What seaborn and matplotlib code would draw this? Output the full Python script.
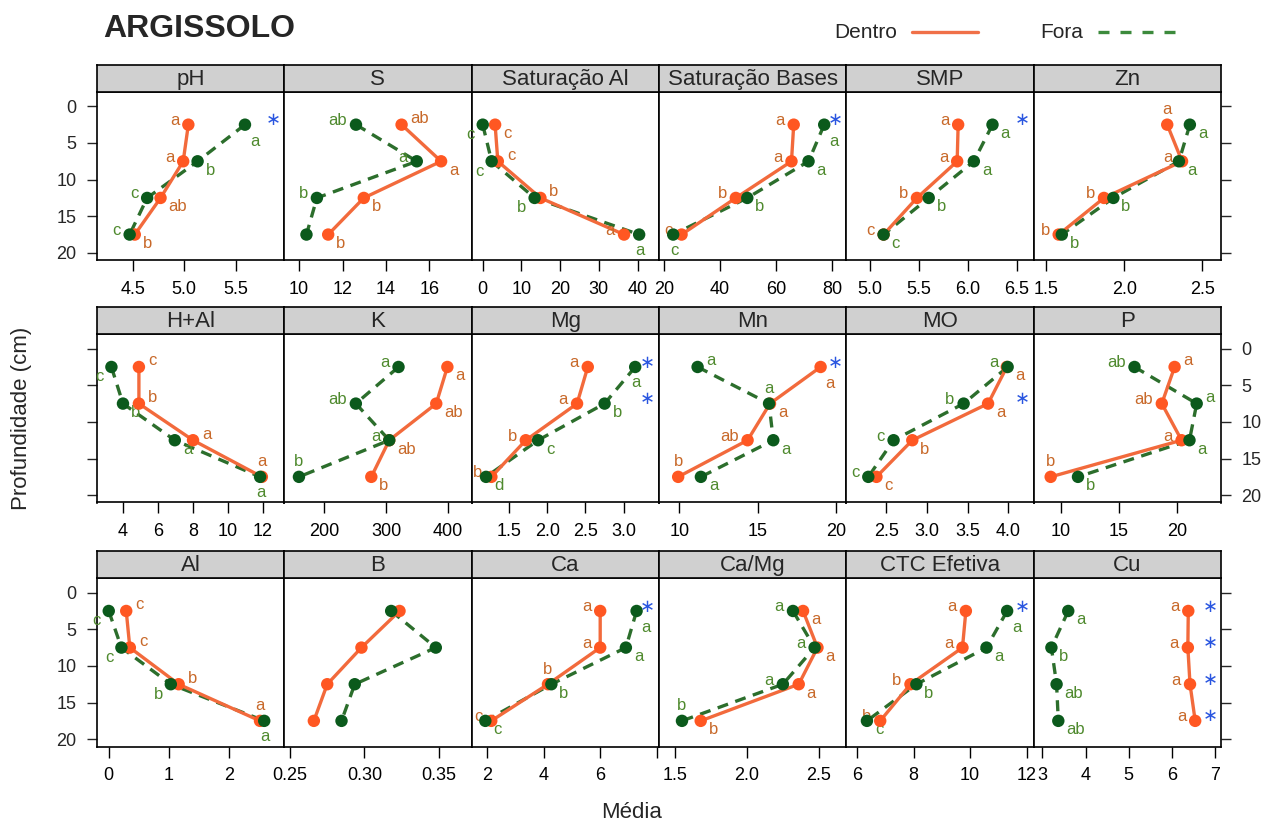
import matplotlib
matplotlib.use("Agg")
import matplotlib.pyplot as plt
import matplotlib.transforms as mtransforms
from matplotlib.lines import Line2D
import seaborn as sns
import pandas as pd

# ---------------- data ----------------
depths = [2.5, 7.5, 12.5, 17.5]
panels = ["pH", "S", "Saturação Al", "Saturação Bases", "SMP", "Zn",
          "H+Al", "K", "Mg", "Mn", "MO", "P",
          "Al", "B", "Ca", "Ca/Mg", "CTC Efetiva", "Cu"]

ph_dentro = [5.04, 4.99, 4.77, 4.52]
ph_fora = [5.59, 5.13, 4.64, 4.47]
s_dentro = [14.72, 16.54, 12.98, 11.34]
s_fora = [12.62, 15.42, 10.82, 10.34]
satal_dentro = [3.2, 3.9, 14.9, 36.5]
satal_fora = [0.0, 2.3, 13.4, 40.4]
satbases_dentro = [66.3, 65.5, 45.6, 26.2]
satbases_fora = [77.2, 71.6, 49.7, 23.2]
smp_dentro = [5.90, 5.89, 5.48, 5.14]
smp_fora = [6.25, 6.06, 5.60, 5.14]
zn_dentro = [2.275, 2.37, 1.87, 1.58]
zn_fora = [2.42, 2.35, 1.93, 1.60]
hal_dentro = [4.91, 4.91, 8.0, 11.93]
hal_fora = [3.34, 4.0, 6.96, 11.83]
k_dentro = [399, 381, 305, 276]
k_fora = [320, 251, 305, 159]
mg_dentro = [2.53, 2.39, 1.72, 1.27]
mg_fora = [3.15, 2.75, 1.88, 1.20]
mn_dentro = [19.02, 15.79, 14.36, 9.93]
mn_fora = [11.17, 15.73, 16.0, 11.38]
mo_dentro = [3.98, 3.75, 2.82, 2.38]
mo_fora = [3.99, 3.45, 2.59, 2.28]
p_dentro = [19.8, 18.7, 20.4, 9.14]
p_fora = [16.35, 21.7, 21.08, 11.49]
al_dentro = [0.29, 0.35, 1.16, 2.51]
al_fora = [0.0, 0.21, 1.03, 2.58]
b_dentro = [0.3236, 0.298, 0.275, 0.266]
b_fora = [0.318, 0.348, 0.2935, 0.2846]
ca_dentro = [6.0, 6.0, 4.15, 2.14]
ca_fora = [7.29, 6.91, 4.27, 1.93]
camg_dentro = [2.39, 2.49, 2.36, 1.68]
camg_fora = [2.32, 2.47, 2.25, 1.55]
ctc_dentro = [9.85, 9.73, 7.89, 6.82]
ctc_fora = [11.31, 10.58, 8.10, 6.35]
cu_dentro = [6.38, 6.37, 6.42, 6.54]
cu_fora = [3.60, 3.21, 3.33, 3.37]

# significance letters
ph_let_d = ["a", "a", "ab", "b"];      ph_let_f = ["a", "b", "c", "c"]
s_let_d = ["ab", "a", "b", "b"];       s_let_f = ["ab", "a", "b", ""]
satal_let_d = ["c", "c", "b", "a"];    satal_let_f = ["c", "c", "b", "a"]
satb_let_d = ["a", "a", "b", "c"];     satb_let_f = ["a", "a", "b", "c"]
smp_let_d = ["a", "a", "b", "c"];      smp_let_f = ["a", "a", "b", "c"]
zn_let_d = ["a", "a", "b", "b"];       zn_let_f = ["a", "a", "b", "b"]
hal_let_d = ["c", "b", "a", "a"];      hal_let_f = ["c", "b", "a", "a"]
k_let_d = ["a", "ab", "ab", "b"];      k_let_f = ["a", "ab", "a", "b"]
mg_let_d = ["a", "a", "b", "b"];       mg_let_f = ["a", "b", "c", "d"]
mn_let_d = ["a", "a", "ab", "b"];      mn_let_f = ["a", "a", "a", "a"]
mo_let_d = ["a", "a", "b", "c"];       mo_let_f = ["a", "b", "c", "c"]
p_let_d = ["a", "ab", "a", "b"];       p_let_f = ["ab", "a", "a", "b"]
al_let_d = ["c", "c", "b", "a"];       al_let_f = ["c", "c", "b", "a"]
b_let_d = ["", "", "", ""];            b_let_f = ["", "", "", ""]
ca_let_d = ["a", "a", "b", "c"];       ca_let_f = ["a", "a", "b", "c"]
camg_let_d = ["a", "a", "a", "b"];     camg_let_f = ["a", "a", "a", "b"]
ctc_let_d = ["a", "a", "b", "b"];      ctc_let_f = ["a", "a", "b", "c"]
cu_let_d = ["a", "a", "a", "a"];       cu_let_f = ["a", "b", "ab", "ab"]

# depths with significant difference (asterisk)
ph_star = [2.5]; satb_star = [2.5]; smp_star = [2.5]; mg_star = [2.5, 7.5]
mn_star = [2.5]; mo_star = [7.5]; ca_star = [2.5]; ctc_star = [2.5]
cu_star = [2.5, 7.5, 12.5, 17.5]

# x tick values per panel
ph_ticks = [4.5, 5.0, 5.5]; s_ticks = [10, 12, 14, 16]; satal_ticks = [0, 10, 20, 30, 40]
satb_ticks = [20, 40, 60, 80]; smp_ticks = [5.0, 5.5, 6.0, 6.5]; zn_ticks = [1.5, 2.0, 2.5]
hal_ticks = [4, 6, 8, 10, 12]; k_ticks = [200, 300, 400]; mg_ticks = [1.5, 2.0, 2.5, 3.0]
mn_ticks = [10, 15, 20]; mo_ticks = [2.5, 3.0, 3.5, 4.0]; p_ticks = [10, 15, 20]
al_ticks = [0, 1, 2]; b_ticks = [0.25, 0.30, 0.35]; ca_ticks = [2, 4, 6, 8]
camg_ticks = [1.5, 2.0, 2.5]; ctc_ticks = [6, 8, 10, 12]; cu_ticks = [3, 4, 5, 6, 7]
ca_ticklabels = ["2", "4", "6", ""]

# ---------------- assemble ----------------
dentro_vals = [ph_dentro, s_dentro, satal_dentro, satbases_dentro, smp_dentro, zn_dentro,
               hal_dentro, k_dentro, mg_dentro, mn_dentro, mo_dentro, p_dentro,
               al_dentro, b_dentro, ca_dentro, camg_dentro, ctc_dentro, cu_dentro]
fora_vals = [ph_fora, s_fora, satal_fora, satbases_fora, smp_fora, zn_fora,
             hal_fora, k_fora, mg_fora, mn_fora, mo_fora, p_fora,
             al_fora, b_fora, ca_fora, camg_fora, ctc_fora, cu_fora]
let_d = [ph_let_d, s_let_d, satal_let_d, satb_let_d, smp_let_d, zn_let_d,
         hal_let_d, k_let_d, mg_let_d, mn_let_d, mo_let_d, p_let_d,
         al_let_d, b_let_d, ca_let_d, camg_let_d, ctc_let_d, cu_let_d]
let_f = [ph_let_f, s_let_f, satal_let_f, satb_let_f, smp_let_f, zn_let_f,
         hal_let_f, k_let_f, mg_let_f, mn_let_f, mo_let_f, p_let_f,
         al_let_f, b_let_f, ca_let_f, camg_let_f, ctc_let_f, cu_let_f]
stars = [ph_star, [], [], satb_star, smp_star, [],
         [], [], mg_star, mn_star, mo_star, [],
         [], [], ca_star, [], ctc_star, cu_star]
ticks = [ph_ticks, s_ticks, satal_ticks, satb_ticks, smp_ticks, zn_ticks,
         hal_ticks, k_ticks, mg_ticks, mn_ticks, mo_ticks, p_ticks,
         al_ticks, b_ticks, ca_ticks, camg_ticks, ctc_ticks, cu_ticks]

rows = []
for name, dv, fv in zip(panels, dentro_vals, fora_vals):
    for d, v in zip(depths, dv):
        rows.append({"var": name, "local": "Dentro", "depth": d, "value": v})
    for d, v in zip(depths, fv):
        rows.append({"var": name, "local": "Fora", "depth": d, "value": v})
df = pd.DataFrame(rows)

# ---------------- layout / style (not data) ----------------
xlims = [(4.15, 5.97), (9.31, 17.94), (-2.9, 45.5), (18.1, 85.1), (4.76, 6.67), (1.42, 2.62),
         (2.5, 13.2), (135, 438), (1.01, 3.46), (8.7, 20.66), (2.01, 4.31), (7.68, 23.8),
         (-0.2, 2.91), (0.246, 0.372), (1.44, 8.08), (1.39, 2.69), (5.62, 12.25), (2.8, 7.14)]
# label placement codes: L left-up, l left-down, R right-down, r right-up,
# U above, D below, B right and well below
side_d = ["LLRR", "rRRR", "RrrL", "LLLL", "LLLL", "ULLL",
          "rrrU", "RRRR", "LLLL", "BRLU", "RRRR", "rLLU",
          "rrrU", "LLLL", "LLUL", "RRRR", "LLLL", "LLLL"]
side_f = ["BRLL", "LLLL", "lllD", "BRRD", "RRRR", "RRRR",
          "lRRD", "LLLU", "DRRR", "rURR", "LLLL", "LrRR",
          "lllD", "RRRR", "BRRR", "LLLU", "BRRR", "RRRR"]
offsets = {"L": (-9, 4, "right"), "l": (-8, -10, "right"),
           "R": (8, -9, "left"), "r": (9, 6, "left"),
           "U": (0, 15, "center"), "D": (1, -16, "center"),
           "B": (5, -17, "left")}

line_pal = {"Dentro": "#F26A3C", "Fora": "#2C6E2C"}
pt_pal = {"Dentro": "#FF5722", "Fora": "#0B5A1C"}
lab_col = {"Dentro": "#C8692A", "Fora": "#4F8A2E"}

sns.set_style("white")
plt.rcParams["font.family"] = ["Liberation Sans", "DejaVu Sans"]

W, H = 1267, 826
fig = plt.figure(figsize=(W / 100, H / 100), dpi=100)
left_px = 96.7
col_w = 187.4
row_top = [91.7, 334.0, 578.0]
row_h = 168.5
strip_h = 27.0

for i, name in enumerate(panels):
    r, c = divmod(i, 6)
    x0 = (left_px + c * col_w) / W
    ax = fig.add_axes([x0, 1 - (row_top[r] + row_h) / H, col_w / W, row_h / H])
    sax = fig.add_axes([x0, 1 - row_top[r] / H, col_w / W, strip_h / H])
    sax.set_facecolor("#D0D0D0")
    sax.set_xticks([]); sax.set_yticks([])
    for sp in sax.spines.values():
        sp.set_color("black"); sp.set_linewidth(1.2)
    sax.text(0.5, 0.45, name, ha="center", va="center", fontsize=16, transform=sax.transAxes)

    sub = df[df["var"] == name]
    sns.lineplot(data=sub, x="value", y="depth", hue="local", style="local",
                 hue_order=["Fora", "Dentro"], style_order=["Fora", "Dentro"],
                 palette=line_pal, dashes={"Dentro": "", "Fora": (3.3, 2.3)},
                 orient="y", sort=True, estimator=None, linewidth=2.4,
                 legend=False, ax=ax)
    sns.scatterplot(data=sub, x="value", y="depth", hue="local",
                    hue_order=["Fora", "Dentro"], palette=pt_pal, s=80,
                    linewidth=0, legend=False, ax=ax, zorder=4)

    for series, vals, lets, sides in (("Dentro", dentro_vals[i], let_d[i], side_d[i]),
                                      ("Fora", fora_vals[i], let_f[i], side_f[i])):
        for d, v, lt, sd in zip(depths, vals, lets, sides):
            if not lt:
                continue
            dx, dy, ha = offsets[sd]
            ax.annotate(lt, (v, d), xytext=(dx, dy), textcoords="offset pixels",
                        ha=ha, va="center", fontsize=12, color=lab_col[series],
                        annotation_clip=False)

    trans = mtransforms.blended_transform_factory(ax.transAxes, ax.transData)
    for d in stars[i]:
        ax.text(0.94, d - 0.6, "\u2217", transform=trans, ha="center", va="center",
                fontsize=13, color="#2A56E0", family="DejaVu Sans")

    ax.set_xlim(*xlims[i])
    ax.set_ylim(21, -2)
    ax.set_xlabel(""); ax.set_ylabel("")
    ax.set_xticks(ticks[i])
    if name == "Ca":
        ax.set_xticklabels(ca_ticklabels)
    elif name in ("pH", "SMP", "Zn", "Mg", "MO", "Ca/Mg", "B"):
        ax.set_xticklabels([f"{t:.2f}" if name == "B" else f"{t:.1f}" for t in ticks[i]])
    else:
        ax.set_xticklabels([f"{t:g}" for t in ticks[i]])
    ax.tick_params(axis="x", direction="out", length=8, width=1, pad=7,
                   labelsize=13, bottom=True, colors="black")
    ax.set_yticks([0, 5, 10, 15, 20])
    left_lab = (c == 0) and (r != 1)
    right_lab = (c == 5) and (r == 1)
    ax.tick_params(axis="y", direction="out", length=7.5, width=1, pad=7,
                   labelsize=13, left=(c == 0), right=(c == 5),
                   labelleft=left_lab, labelright=right_lab)
    for sp in ax.spines.values():
        sp.set_color("black"); sp.set_linewidth(1.2)

fig.text(103 / W, 1 - 29 / H, "ARGISSOLO", fontsize=23, fontweight="bold",
         ha="left", va="center")
fig.text(834 / W, 1 - 32 / H, "Dentro", fontsize=15, ha="left", va="center")
fig.add_artist(Line2D([912 / W, 978 / W], [1 - 32 / H, 1 - 32 / H],
                      color="#F07048", lw=2.4, transform=fig.transFigure))
fig.text(1040 / W, 1 - 32 / H, "Fora", fontsize=15, ha="left", va="center")
fig.add_artist(Line2D([1098 / W, 1175 / W], [1 - 32 / H, 1 - 32 / H],
                      color="#3C8A3C", lw=2.4, dashes=(3.3, 3.3), transform=fig.transFigure))
fig.text(22 / W, 1 - 418 / H, "Profundidade (cm)", fontsize=16, rotation=90,
         ha="center", va="center")
fig.text(632 / W, 1 - 812 / H, "Média", fontsize=16, ha="center", va="center")

fig.savefig("out.png", dpi=100)
